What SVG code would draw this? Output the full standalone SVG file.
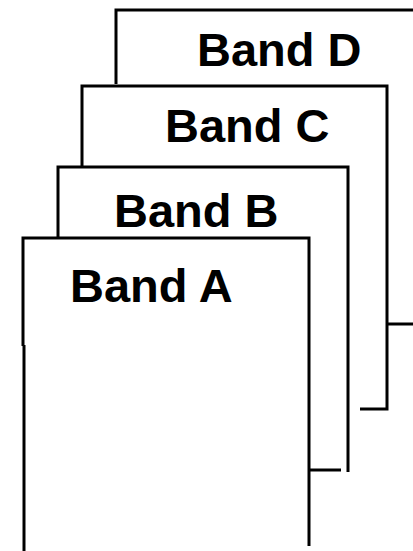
<svg xmlns="http://www.w3.org/2000/svg" width="413" height="551" viewBox="0 0 413 551">
  <style>
    .edge { fill: none; stroke: #000; stroke-width: 3; stroke-linejoin: miter; }
    .label { font-family: "Liberation Sans", Arial, sans-serif; font-weight: bold; font-size: 47px; fill: #000; }
  </style>
  <rect width="413" height="551" fill="#fff"/>

  <!-- back sheet -->
  <g id="band-d">
    <polyline class="edge" points="116,84 116,10 414,10"/>
    <polyline class="edge" points="387,324 414,324"/>
    <text class="label" x="197" y="66">Band D</text>
  </g>

  <g id="band-c">
    <polyline class="edge" points="82,166 82,86 387,86 387,409 360,409"/>
    <text class="label" x="165" y="142">Band C</text>
  </g>

  <g id="band-b">
    <polyline class="edge" points="58,237 58,167 348,167 348,472"/>
    <polyline class="edge" points="309,470 341,470"/>
    <text class="label" x="114" y="227">Band B</text>
  </g>

  <!-- front sheet -->
  <g id="band-a">
    <polyline class="edge" points="23,346 23,238 309,238 309,546"/>
    <polyline class="edge" points="24,345 24,551"/>
    <text class="label" x="70" y="302">Band A</text>
  </g>
</svg>
